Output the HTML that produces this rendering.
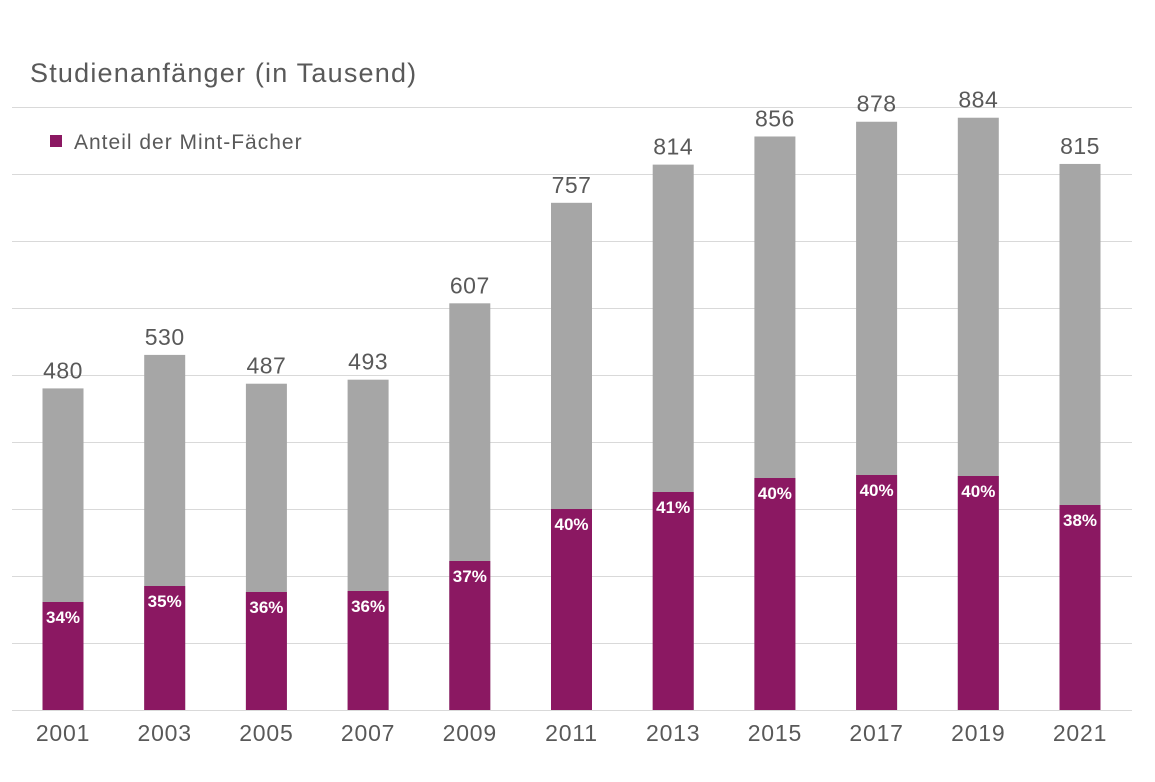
<!DOCTYPE html>
<html><head><meta charset="utf-8"><style>
body{margin:0;background:#fff;}
svg text{font-family:"Liberation Sans",sans-serif;}
</style></head><body>
<svg width="1155" height="777" xmlns="http://www.w3.org/2000/svg">
<rect width="1155" height="777" fill="#fff"/>
<g stroke="#d9d9d9" stroke-width="1">
<line x1="12" x2="1132" y1="107.5" y2="107.5"/>
<line x1="12" x2="1132" y1="174.5" y2="174.5"/>
<line x1="12" x2="1132" y1="241.5" y2="241.5"/>
<line x1="12" x2="1132" y1="308.5" y2="308.5"/>
<line x1="12" x2="1132" y1="375.5" y2="375.5"/>
<line x1="12" x2="1132" y1="442.5" y2="442.5"/>
<line x1="12" x2="1132" y1="509.5" y2="509.5"/>
<line x1="12" x2="1132" y1="576.5" y2="576.5"/>
<line x1="12" x2="1132" y1="643.5" y2="643.5"/>
<line x1="12" x2="1132" y1="710.5" y2="710.5"/>
</g>
<text x="30" y="82" font-size="27" fill="#595959" letter-spacing="1.2">Studienanfänger (in Tausend)</text>
<rect x="50" y="135" width="12" height="12" fill="#8b1862"/>
<text x="74" y="149" font-size="21" fill="#595959" letter-spacing="1">Anteil der Mint-Fächer</text>
<g id="bars"></g>
</svg>
<script>
var d=[[2001,480,34,602],[2003,530,35,586],[2005,487,36,592],[2007,493,36,591],[2009,607,37,561],[2011,757,40,509],[2013,814,41,492],[2015,856,40,478],[2017,878,40,475],[2019,884,40,476],[2021,815,38,505]];
var s=0.67,b=710,g=document.getElementById('bars'),h='';
d.forEach(function(r,i){var cx=63+i*101.7,w=41,x=cx-w/2;var t=b-r[1]*s,p=r[3];
h+='<rect x="'+x+'" y="'+t+'" width="'+w+'" height="'+(b-t)+'" fill="#a6a6a6"/>';
h+='<rect x="'+x+'" y="'+p+'" width="'+w+'" height="'+(b-p)+'" fill="#8b1862"/>';
h+='<text x="'+cx+'" y="'+(t-10)+'" font-size="23" fill="#595959" text-anchor="middle" letter-spacing="0.5">'+r[1]+'</text>';
h+='<text x="'+cx+'" y="'+(p+21)+'" font-size="17" font-weight="bold" fill="#fff" text-anchor="middle">'+r[2]+'%</text>';
h+='<text x="'+cx+'" y="741" font-size="23" fill="#595959" text-anchor="middle" letter-spacing="0.8">'+r[0]+'</text>';});
g.innerHTML=h;
</script>
</body></html>
